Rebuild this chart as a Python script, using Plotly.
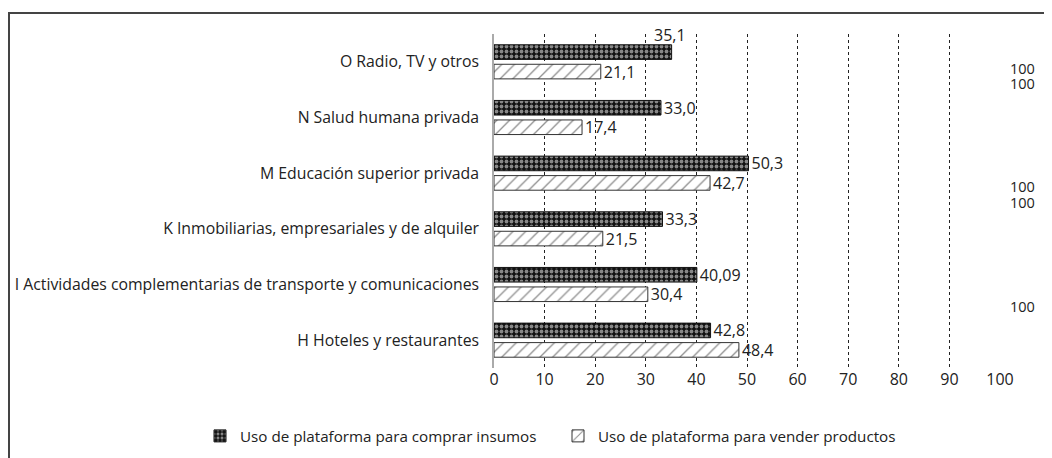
import plotly.graph_objects as go

categories = ["H Hoteles y restaurantes",
              "I Actividades complementarias de transporte y comunicaciones",
              "K Inmobiliarias, empresariales y de alquiler",
              "M Educación superior privada",
              "N Salud humana privada",
              "O Radio, TV y otros"]
compra = [42.8, 40.09, 33.3, 50.3, 33.0, 35.1]
compra_txt = ["42,8", "40,09", "33,3", "50,3", "33,0", "35,1"]
vender = [48.4, 30.4, 21.5, 42.7, 17.4, 21.1]
vender_txt = ["48,4", "30,4", "21,5", "42,7", "17,4", "21,1"]
stray_labels = ["100", "100", "100", "100", "100"]
ticks = [0, 10, 20, 30, 40, 50, 60, 70, 80, 90, 100]

FONT = "Open Sans"
FS = 16
OFF = 8  # page body margin offset
W, H = 1052 - OFF, 458 - OFF
PL, PR, PT, PB = 494, 1000, 34, 368
ML, MR, MT = PL - OFF, W - (PR - OFF), PT - OFF
MB = H - (PB - OFF)
ph = H - MT - MB
pw = W - ML - MR


def py_paper(y):
    return (PB - y) / ph


def px_paper(x):
    return (x - PL) / pw


fig = go.Figure()
fig.add_trace(go.Bar(
    y=categories, x=vender, orientation="h",
    name="Uso de plataforma para vender productos",
    text=vender_txt, textposition="outside", cliponaxis=False, constraintext="none",
    textfont=dict(family=FONT, size=FS, color="#222"),
    marker=dict(color="white", line=dict(color="#333", width=1),
                pattern=dict(shape="/", fgcolor="#222", bgcolor="white", size=9, solidity=0.15)),
    legend="legend2",
))
ctext = list(compra_txt)
ctext[-1] = ""
fig.add_trace(go.Bar(
    y=categories, x=compra, orientation="h",
    name="Uso de plataforma para comprar insumos",
    text=ctext, textposition="outside", cliponaxis=False, constraintext="none",
    textfont=dict(family=FONT, size=FS, color="#222"),
    marker=dict(color="#111", line=dict(color="#111", width=1),
                pattern=dict(shape=".", fgcolor="white", bgcolor="#111", size=5, solidity=0.45)),
    legend="legend",
))

fig.add_annotation(x=compra[-1], y=py_paper(35), yref="paper", text=compra_txt[-1],
                   showarrow=False, xanchor="center", yanchor="middle", xshift=-2,
                   font=dict(family=FONT, size=FS, color="#222"))

stray_pix = [68, 83, 186, 202, 306]
for lab, yy in zip(stray_labels, stray_pix):
    fig.add_annotation(x=1.0, xref="paper", y=py_paper(yy), yref="paper",
                       text=lab, showarrow=False, xanchor="left", yanchor="middle", xshift=8,
                       font=dict(family=FONT, size=14.5, color="#222"))

fig.add_shape(type="rect", xref="paper", yref="paper",
              x0=px_paper(9), x1=1.2, y0=-0.4, y1=py_paper(13),
              line=dict(color="#444", width=2), fillcolor="rgba(0,0,0,0)", layer="below")

leg_common = dict(orientation="h", xref="container", yref="container", xanchor="left",
                  yanchor="middle", y=1 - (436 - OFF) / H,
                  font=dict(family=FONT, size=15.2, color="#222"), bgcolor="rgba(0,0,0,0)")

fig.update_layout(
    width=W, height=H,
    margin=dict(l=ML, r=MR, t=MT, b=MB, autoexpand=False),
    paper_bgcolor="white", plot_bgcolor="white",
    barmode="group", bargap=0.3, bargroupgap=0.25,
    font=dict(family=FONT, size=FS, color="#222"),
    xaxis=dict(range=[0, 100], tickvals=ticks, showgrid=True, gridcolor="#222",
               griddash="dot", gridwidth=1, zeroline=False, showline=False, automargin=False,
               tickfont=dict(family=FONT, size=FS, color="#222"), ticks=""),
    yaxis=dict(showline=True, linecolor="#aaa", linewidth=1.5, ticks="", automargin=False,
               tickfont=dict(family=FONT, size=15.8, color="#222"), ticklabelstandoff=10),
    legend=dict(x=(200 - OFF) / W, **leg_common),
    legend2=dict(x=(558 - OFF) / W, **leg_common),
    showlegend=True,
)

fig.write_html("out.html")
